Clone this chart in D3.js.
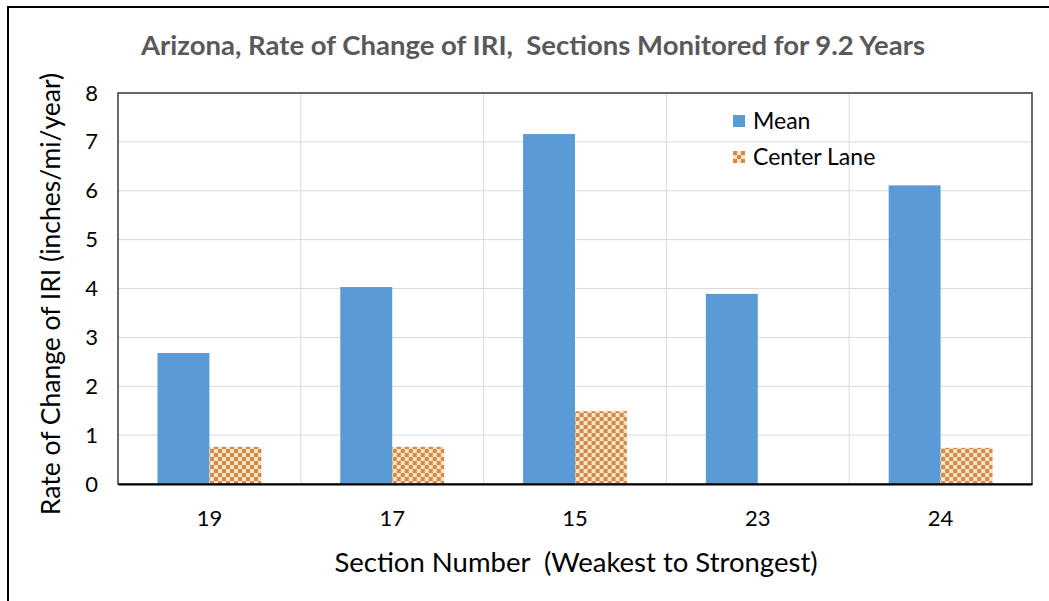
<!DOCTYPE html>
<html>
<head>
<meta charset="utf-8">
<script src="https://cdn.jsdelivr.net/npm/d3@7"></script>
<style>
  body { margin: 0; background: #fff; }
  svg { display: block; font-family: Lato, "Open Sans", sans-serif; }
</style>
</head>
<body>
<div id="chart-area"></div>
<script>
const sections = ['19', '17', '15', '23', '24'];
const meanValues = [2.68, 4.03, 7.16, 3.89, 6.11];
const centerLaneValues = [0.76, 0.76, 1.49, 0, 0.74];
const seriesNames = ['Mean', 'Center Lane'];
const yTicks = [0, 1, 2, 3, 4, 5, 6, 7, 8];

const widthSvg = 1049;
const heightSvg = 601;
const margin = { top: 93, right: 17, bottom: 117, left: 118 };
const widthChart = widthSvg - margin.left - margin.right;
const heightChart = heightSvg - margin.top - margin.bottom;

const svg = d3.select('#chart-area')
  .append('svg')
    .attr('width', widthSvg)
    .attr('height', heightSvg);

// checker pattern for center lane
const defs = svg.append('defs');
const pat = defs.append('pattern')
  .attr('id', 'checker')
  .attr('patternUnits', 'userSpaceOnUse')
  .attr('width', 8)
  .attr('height', 8);
pat.append('rect').attr('width', 8).attr('height', 8).attr('fill', '#fbe2c0');
pat.append('rect').attr('width', 4).attr('height', 4).attr('fill', '#cf8a4c');
pat.append('rect').attr('x', 4).attr('y', 4).attr('width', 4).attr('height', 4).attr('fill', '#cf8a4c');

// outer frame
svg.append('rect')
  .attr('x', 8).attr('y', 7)
  .attr('width', 1080).attr('height', 640)
  .attr('fill', 'none')
  .attr('stroke', '#000')
  .attr('stroke-width', 2);

svg.append('text')
  .attr('x', 533).attr('y', 55)
  .attr('text-anchor', 'middle')
  .attr('font-size', 27.5)
  .attr('font-weight', 'bold')
  .attr('fill', '#595959')
  .attr('xml:space', 'preserve')
  .text('Arizona, Rate of Change of IRI,  Sections Monitored for 9.2 Years');

const chart = svg.append('g')
  .attr('transform', `translate(${margin.left}, ${margin.top})`);

const scaleX = d3.scaleBand()
  .domain(sections)
  .range([0, widthChart])
  .paddingInner(0)
  .paddingOuter(0);

const scaleY = d3.scaleLinear()
  .domain([0, 8])
  .range([heightChart, 0]);

const scaleSeries = d3.scaleBand()
  .domain(seriesNames)
  .range([0, scaleX.bandwidth()])
  .paddingInner(0)
  .paddingOuter(0.76);

// gridlines
chart.append('g')
  .selectAll('line')
  .data(yTicks.slice(1))
  .join('line')
    .attr('x1', 0).attr('x2', widthChart)
    .attr('y1', d => scaleY(d)).attr('y2', d => scaleY(d))
    .attr('stroke', '#d9d9d9');

chart.append('g')
  .selectAll('line')
  .data(sections.slice(1))
  .join('line')
    .attr('x1', d => scaleX(d)).attr('x2', d => scaleX(d))
    .attr('y1', 0).attr('y2', heightChart)
    .attr('stroke', '#d9d9d9');

const rows = sections.map((s, i) => ({ section: s, values: [meanValues[i], centerLaneValues[i]] }));

const groups = chart.selectAll('.grp')
  .data(rows)
  .join('g')
    .attr('class', 'grp')
    .attr('transform', d => `translate(${scaleX(d.section)},0)`);

groups.selectAll('rect')
  .data(d => d.values.map((v, j) => ({ name: seriesNames[j], value: v })))
  .join('rect')
    .attr('x', d => scaleSeries(d.name))
    .attr('width', scaleSeries.bandwidth())
    .attr('y', d => scaleY(d.value))
    .attr('height', d => heightChart - scaleY(d.value))
    .attr('fill', d => d.name === 'Mean' ? '#5b9bd5' : 'url(#checker)');

// plot border
chart.append('rect')
  .attr('width', widthChart).attr('height', heightChart)
  .attr('fill', 'none')
  .attr('stroke', '#3a3a3a')
  .attr('stroke-width', 1.5);

// axes
const axisY = d3.axisLeft(scaleY).tickValues(yTicks).tickSize(0).tickPadding(20);
const gy = chart.append('g').call(axisY);
gy.select('.domain').remove();
gy.selectAll('text').attr('font-size', 22).attr('fill', '#000').attr('font-family', 'Lato, "Open Sans", sans-serif');

const axisX = d3.axisBottom(scaleX).tickSize(0).tickPadding(26);
const gx = chart.append('g').attr('transform', `translate(0, ${heightChart})`).call(axisX);
gx.select('.domain').attr('stroke', '#000').attr('stroke-width', 2);
gx.selectAll('text').attr('font-size', 22).attr('fill', '#000').attr('font-family', 'Lato, "Open Sans", sans-serif');

svg.append('text')
  .attr('x', 576).attr('y', 572)
  .attr('text-anchor', 'middle')
  .attr('font-size', 27.5)
  .attr('fill', '#000')
  .attr('xml:space', 'preserve')
  .text('Section Number  (Weakest to Strongest)');

svg.append('text')
  .attr('transform', 'translate(60, 294) rotate(-90)')
  .attr('text-anchor', 'middle')
  .attr('font-size', 26.5)
  .attr('fill', '#000')
  .text('Rate of Change of IRI (inches/mi/year)');

// legend
const legend = svg.append('g').attr('transform', 'translate(733, 115)');
seriesNames.forEach((name, i) => {
  const row = legend.append('g').attr('transform', `translate(0, ${i * 36})`);
  row.append('rect')
    .attr('width', 12).attr('height', 12)
    .attr('fill', name === 'Mean' ? '#5b9bd5' : 'url(#checker)');
  row.append('text')
    .attr('x', 20).attr('y', 14)
    .attr('font-size', 23)
    .attr('fill', '#000')
    .text(name);
});
</script>
</body>
</html>
